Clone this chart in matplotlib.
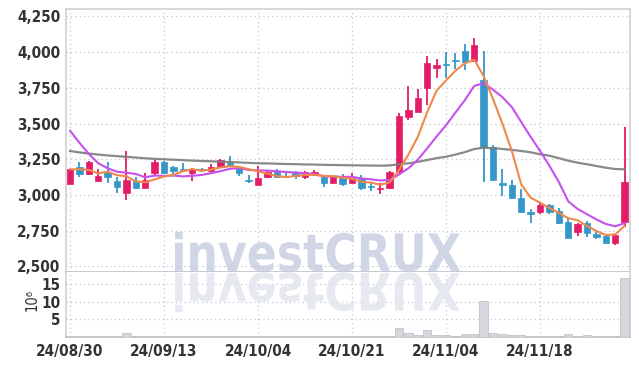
import matplotlib
matplotlib.use("Agg")
import matplotlib.pyplot as plt
from matplotlib.textpath import TextPath
from matplotlib.patches import PathPatch
from matplotlib.font_manager import FontProperties
from matplotlib.transforms import Affine2D, IdentityTransform
import numpy as np

dates = ["24/08/30", "24/09/13", "24/10/04", "24/10/21", "24/11/04", "24/11/18"]
date_pos = [0, 10, 20, 30, 40, 50]

opens = [3075, 3195, 3145, 3100, 3163, 3100, 3012, 3100, 3052, 3152,
         3229, 3198, 3180, 3156, 3180, 3170, 3194, 3226, 3194, 3102,
         3070, 3128, 3170, 3130, 3156, 3124, 3140, 3128, 3086, 3124,
         3086, 3121, 3060, 3040, 3047, 3159, 3548, 3580, 3751, 3887,
         3912, 3940, 4008, 3940, 3805, 3334, 3078, 3070, 2977, 2875,
         2879, 2930, 2890, 2813, 2739, 2802, 2725, 2713, 2666, 2813]
highs = [3182, 3230, 3240, 3180, 3230, 3125, 3310, 3125, 3152, 3245,
         3240, 3205, 3226, 3187, 3187, 3215, 3250, 3273, 3198, 3140,
         3205, 3166, 3184, 3155, 3166, 3166, 3173, 3135, 3128, 3145,
         3156, 3140, 3082, 3082, 3166, 3576, 3765, 3741, 3975, 3952,
         4003, 3992, 4055, 4097, 4008, 3350, 3180, 3105, 3040, 2902,
         2950, 2940, 2912, 2835, 2802, 2820, 2750, 2720, 2730, 3478]
lows = [3075, 3125, 3140, 3090, 3085, 3015, 2965, 3045, 3050, 3130,
        3150, 3135, 3165, 3100, 3160, 3163, 3187, 3198, 3135, 3086,
        3068, 3121, 3120, 3120, 3114, 3114, 3135, 3058, 3084, 3063,
        3082, 3035, 3028, 3010, 3044, 3159, 3525, 3579, 3630, 3817,
        3817, 3880, 3875, 3935, 3089, 3105, 2990, 2975, 2872, 2806,
        2865, 2867, 2800, 2701, 2713, 2708, 2690, 2660, 2650, 2774]
closes = [3180, 3145, 3230, 3133, 3128, 3058, 3105, 3050, 3105, 3229,
          3155, 3168, 3172, 3180, 3176, 3194, 3245, 3210, 3156, 3098,
          3121, 3159, 3124, 3127, 3133, 3159, 3163, 3082, 3124, 3077,
          3124, 3051, 3057, 3051, 3159, 3553, 3595, 3677, 3922, 3910,
          3908, 3935, 3933, 4050, 3334, 3105, 3072, 2977, 2883, 2870,
          2930, 2883, 2806, 2701, 2795, 2732, 2708, 2666, 2720, 3093]
ma5 = [3180, 3180, 3175, 3152, 3163, 3139, 3131, 3095, 3089, 3109,
       3129, 3141, 3166, 3181, 3170, 3178, 3193, 3201, 3196, 3181,
       3166, 3149, 3132, 3126, 3133, 3140, 3141, 3133, 3132, 3121,
       3114, 3092, 3087, 3072, 3088, 3174, 3283, 3407, 3581, 3731,
       3802, 3870, 3922, 3947, 3832, 3671, 3499, 3308, 3074, 2981,
       2946, 2909, 2874, 2838, 2823, 2783, 2748, 2720, 2724, 2784]
ma10 = [3450, 3366, 3287, 3222, 3187, 3163, 3156, 3147, 3124, 3136,
        3134, 3136, 3130, 3135, 3140, 3153, 3167, 3183, 3189, 3175,
        3172, 3171, 3166, 3161, 3157, 3153, 3145, 3132, 3129, 3127,
        3127, 3116, 3110, 3102, 3105, 3144, 3187, 3247, 3327, 3410,
        3488, 3577, 3664, 3764, 3782, 3737, 3685, 3615, 3511, 3407,
        3309, 3204, 3091, 2956, 2902, 2865, 2829, 2797, 2781, 2803]
ma_long = [3308, 3298, 3290, 3283, 3277, 3272, 3267, 3262, 3257, 3253,
           3250, 3247, 3244, 3241, 3238, 3236, 3233, 3231, 3228, 3225,
           3222, 3221, 3219, 3217, 3216, 3214, 3213, 3211, 3210, 3209,
           3208, 3207, 3206, 3205, 3207, 3215, 3222, 3232, 3245, 3258,
           3268, 3283, 3300, 3322, 3331, 3328, 3322, 3316, 3308, 3299,
           3285, 3275, 3258, 3240, 3226, 3215, 3203, 3191, 3182, 3180]
volumes = [0.3, 0.2, 0.3, 0.2, 0.2, 0.3, 1.0, 0.3, 0.2, 0.2,
           0.2, 0.1, 0.1, 0.1, 0.1, 0.1, 0.1, 0.1, 0.3, 0.1,
           0.1, 0.1, 0.1, 0.1, 0.1, 0.1, 0.1, 0.3, 0.1, 0.1,
           0.1, 0.1, 0.1, 0.1, 0.2, 2.5, 1.2, 0.6, 2.0, 0.6,
           0.6, 0.4, 0.8, 0.8, 10.2, 1.0, 0.8, 0.6, 0.6, 0.4,
           0.3, 0.3, 0.4, 0.8, 0.4, 0.6, 0.3, 0.3, 0.2, 16.6]

UP = "#e31c68"
DOWN = "#3597c9"
GRID = "#c3c6d6"
SPINE = "#cfd0d6"
TXT = "#333333"

plt.rcParams["font.family"] = ["DejaVu Sans"]
plt.rcParams["font.stretch"] = "condensed"
LABEL_FONT = FontProperties(family="DejaVu Sans", stretch="condensed", weight="bold", size=11)

W, H = 639, 366
fig = plt.figure(figsize=(W / 100, H / 100), dpi=100)
L, R = 66, 630
ax = fig.add_axes([L / W, (H - 272) / H, (R - L) / W, (272 - 9) / H])
axv = fig.add_axes([L / W, (H - 337) / H, (R - L) / W, (337 - 272) / H], sharex=ax)

x = np.arange(len(closes))
o = np.array(opens); c = np.array(closes); hi = np.array(highs); lo = np.array(lows)
up = c >= o
cols = np.where(up, UP, DOWN)
bottom = np.minimum(o, c)
height = np.maximum(np.abs(c - o), 9)

ax.vlines(x, lo, hi, colors=cols, linewidth=1.3, zorder=3)
ax.bar(x, height, bottom=bottom, width=0.68, color=cols, edgecolor=cols, linewidth=0.5, zorder=4)

ax.plot(x, ma_long, color="#7c7c7c", linewidth=1.6, alpha=0.9, zorder=5)
ax.plot(x, ma10, color="#c650ee", linewidth=1.5, zorder=5)
ax.plot(x, ma5, color="#f0884c", linewidth=1.5, zorder=5)

ax.set_xlim(-0.43, 59.57)
ax.set_ylim(2461, 4302)
yt = [2500, 2750, 3000, 3250, 3500, 3750, 4000, 4250]
ax.set_yticks(yt)
ax.set_yticklabels([f"{v:,}" for v in yt])
ax.set_xticks(date_pos)
ax.tick_params(axis="x", labelbottom=False, length=0)
ax.tick_params(axis="y", length=0, pad=4, labelcolor=TXT)
for t in ax.get_yticklabels():
    t.set_fontproperties(LABEL_FONT)
ax.grid(True, color=GRID, linestyle=(0, (1, 2.5)), linewidth=0.9)
ax.set_axisbelow(True)
for s in ["left", "top", "right"]:
    ax.spines[s].set_color(SPINE)
    ax.spines[s].set_linewidth(1.2)
ax.spines["bottom"].set_color("#bdbec6")
ax.spines["bottom"].set_linewidth(1.2)

axv.bar(x, volumes, width=0.9, color="#d6d6dc", edgecolor="#c2c2ca", linewidth=0.6, zorder=3)
axv.set_ylim(0, 18.4)
axv.set_yticks([5, 10, 15])
axv.set_yticklabels(["5", "10", "15"])
axv.set_xticks(date_pos)
axv.set_xticklabels(dates)
axv.tick_params(axis="both", length=0, labelcolor=TXT)
axv.tick_params(axis="y", pad=4)
axv.tick_params(axis="x", pad=5)
for t in axv.get_yticklabels() + axv.get_xticklabels():
    t.set_fontproperties(LABEL_FONT)
axv.grid(True, color=GRID, linestyle=(0, (1, 2.5)), linewidth=0.9)
axv.set_axisbelow(True)
axv.spines["top"].set_visible(False)
for s in ["left", "right"]:
    axv.spines[s].set_color(SPINE)
    axv.spines[s].set_linewidth(1.2)
axv.spines["bottom"].set_color("#bdbec6")
axv.spines["bottom"].set_linewidth(1.2)
fig.text(32 / W, 1 - 300 / H, "10⁶", rotation=90, ha="center", va="center",
         fontsize=10.5, color=TXT, family="DejaVu Sans")

# watermark
fp = FontProperties(family="DejaVu Sans", weight="bold")
tp = TextPath((0, 0), "investCRUX", size=100, prop=fp)
ext = tp.get_extents()
capH = TextPath((0, 0), "C", size=100, prop=fp).get_extents().height
sx = 285 / ext.width
sy = 39 / capH
base_y = H - 272
trans_up = Affine2D().translate(-ext.x0, 0).scale(sx, sy).translate(175, base_y + 1)
trans_dn = Affine2D().translate(-ext.x0, 0).scale(sx, -sy).translate(175, base_y - 1)
fig.patches.append(PathPatch(trans_up.transform_path(tp), transform=IdentityTransform(),
                             facecolor="#c8cfe2", edgecolor="none", alpha=0.85, zorder=10))
fig.patches.append(PathPatch(trans_dn.transform_path(tp), transform=IdentityTransform(),
                             facecolor="#e3e6ef", edgecolor="none", alpha=0.85, zorder=10))

fig.savefig("out.png", dpi=100)
